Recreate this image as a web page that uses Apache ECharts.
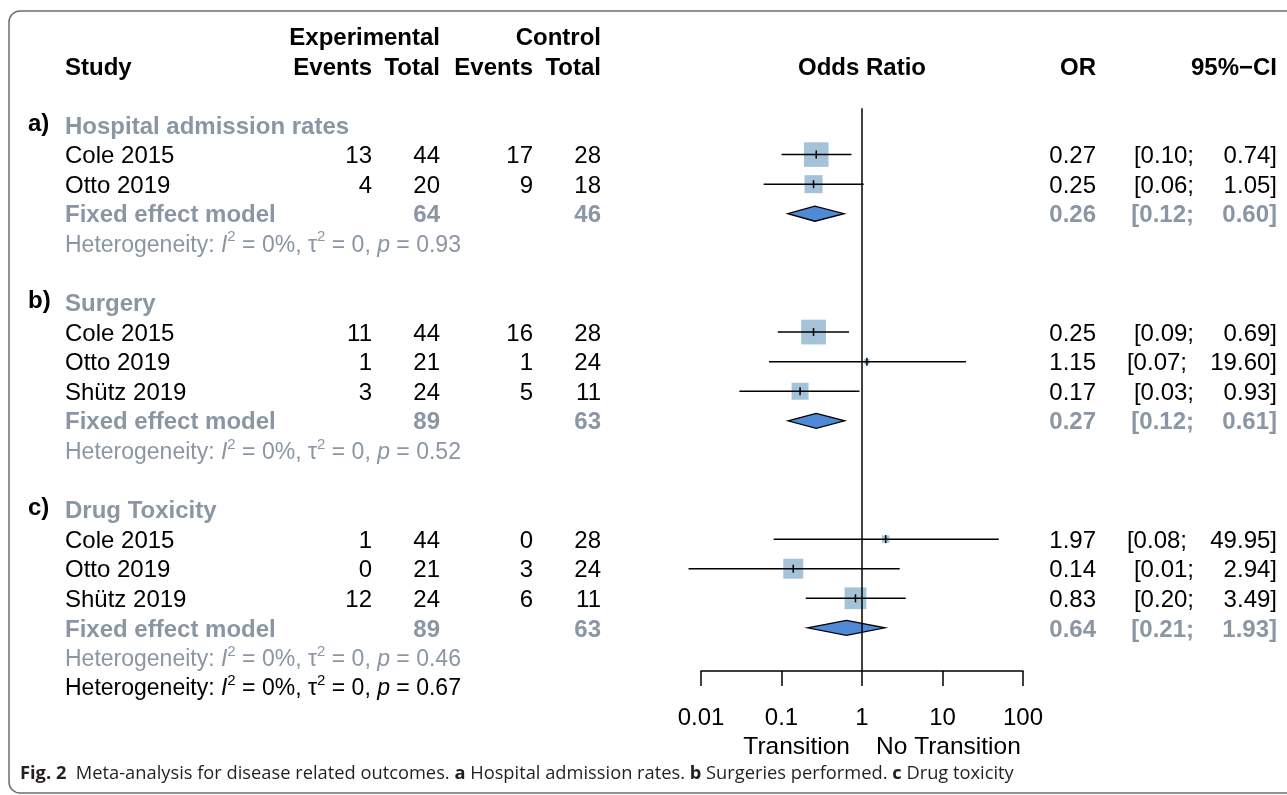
<!DOCTYPE html>
<html>
<head>
<meta charset="utf-8">
<script src="https://cdn.jsdelivr.net/npm/echarts@6/dist/echarts.min.js"></script>
<style>
  html, body { margin: 0; padding: 0; background: #fff; }
  #chart { width: 1287px; height: 795px; }
</style>
</head>
<body>
<div id="chart"></div>
<script>
// groups
var groupLabels = ['a)', 'b)', 'c)'];
var groupTitles = ['Hospital admission rates', 'Surgery', 'Drug Toxicity'];
var groupStart = [0, 6, 13];

// studies
var studies = ['Cole 2015', 'Otto 2019', 'Cole 2015', 'Otto 2019', 'Shütz 2019', 'Cole 2015', 'Otto 2019', 'Shütz 2019'];
var studyGroup = [0, 0, 1, 1, 1, 2, 2, 2];
var expEvents = [13, 4, 11, 1, 3, 1, 0, 12];
var expTotal = [44, 20, 44, 21, 24, 44, 21, 24];
var ctrlEvents = [17, 9, 16, 1, 5, 0, 3, 6];
var ctrlTotal = [28, 18, 28, 24, 11, 28, 24, 11];
var orValues = [0.27, 0.25, 0.25, 1.15, 0.17, 1.97, 0.14, 0.83];
var ciLower = [0.10, 0.06, 0.09, 0.07, 0.03, 0.08, 0.007, 0.20];
var ciUpper = [0.74, 1.05, 0.69, 19.60, 0.93, 49.95, 2.94, 3.49];
var weights = [65, 35, 66, 3, 31, 6, 43, 51];

// pooled (fixed effect)
var pooledOR = [0.26, 0.27, 0.64];
var pooledLower = [0.12, 0.12, 0.21];
var pooledUpper = [0.60, 0.61, 1.93];
var pooledExpTotal = [64, 89, 89];
var pooledCtrlTotal = [46, 63, 63];
var hetP = ['0.93', '0.52', '0.46'];
var overallHetP = '0.67';
var overallHetRow = 19;

var tickLabels = ['0.01', '0.1', '1', '10', '100'];

var FONT = "'Liberation Sans', Arial, sans-serif";
var GRAY = '#8a96a4';
var SQUARE = '#a4c3d9';
var DIAMOND = '#5089d5';

// row index of each study / pooled line
var studyRow = [];
var pooledRow = [];
var counter = [0, 0, 0];
for (var i = 0; i < studies.length; i++) {
    var g = studyGroup[i];
    counter[g]++;
    studyRow.push(groupStart[g] + counter[g]);
}
for (var g2 = 0; g2 < groupStart.length; g2++) {
    pooledRow.push(groupStart[g2] + counter[g2] + 1);
}

function f2(v) { return v.toFixed(2); }

// text cells
var cells = [];
function cell(x, row, text, align, kind, dy) {
    cells.push({ value: [x, row], text: String(text), align: align, kind: kind, dy: (dy || 0) + 2 });
}
// header
cell(440, -3, 'Experimental', 'right', 'head', 0.5);
cell(601, -3, 'Control', 'right', 'head', 0.5);
cell(65, -2, 'Study', 'left', 'head', 0.5);
cell(372, -2, 'Events', 'right', 'head', 0.5);
cell(440, -2, 'Total', 'right', 'head', 0.5);
cell(533, -2, 'Events', 'right', 'head', 0.5);
cell(601, -2, 'Total', 'right', 'head', 0.5);
cell(862, -2, 'Odds Ratio', 'center', 'head', 0.5);
cell(1096, -2, 'OR', 'right', 'head', 0.5);
cell(1277, -2, '95%\u2212CI', 'right', 'head', 0.5);

for (var k = 0; k < groupStart.length; k++) {
    cell(28, groupStart[k], groupLabels[k], 'left', 'head', -3);
    cell(65, groupStart[k], groupTitles[k], 'left', 'gray');
    var pr = pooledRow[k];
    cell(65, pr, 'Fixed effect model', 'left', 'gray');
    cell(440, pr, pooledExpTotal[k], 'right', 'gray');
    cell(601, pr, pooledCtrlTotal[k], 'right', 'gray');
    cell(1096, pr, f2(pooledOR[k]), 'right', 'gray');
    cell(pooledUpper[k] >= 10 ? 1187 : 1194, pr, '[' + f2(pooledLower[k]) + ';', 'right', 'gray');
    cell(1277, pr, f2(pooledUpper[k]) + ']', 'right', 'gray');
    cell(65, pr + 1, 'Heterogeneity: {it|I}{sup|2} = 0%, {n|\u03c4}{sup|2} = 0, {it|p} = ' + hetP[k], 'left', 'hetgray');
}
for (var j = 0; j < studies.length; j++) {
    var r = studyRow[j];
    cell(65, r, studies[j], 'left', 'norm');
    cell(372, r, expEvents[j], 'right', 'norm');
    cell(440, r, expTotal[j], 'right', 'norm');
    cell(533, r, ctrlEvents[j], 'right', 'norm');
    cell(601, r, ctrlTotal[j], 'right', 'norm');
    cell(1096, r, f2(orValues[j]), 'right', 'norm');
    cell(ciUpper[j] >= 10 ? 1187 : 1194, r, '[' + f2(ciLower[j]) + ';', 'right', 'norm');
    cell(1277, r, f2(ciUpper[j]) + ']', 'right', 'norm');
}
cell(65, overallHetRow, 'Heterogeneity: {it|I}{sup|2} = 0%, {n|\u03c4}{sup|2} = 0, {it|p} = ' + overallHetP, 'left', 'het');
cell(850, 20.96, 'Transition', 'right', 'axis');
cell(876, 20.96, 'No Transition', 'left', 'axis');

var HET_SIZE = 23;
function richFor(color) {
    return {
        it: { fontFamily: FONT, fontSize: HET_SIZE, fontStyle: 'italic', color: color },
        n: { fontFamily: FONT, fontSize: HET_SIZE, color: color },
        sup: { fontFamily: FONT, fontSize: 15, color: color, verticalAlign: 'top', padding: [0, 0, 16, 0] }
    };
}

function textStyle(c) {
    var s = { text: c.text, align: c.align, verticalAlign: 'middle', fontFamily: FONT, fontSize: 24, fill: '#000' };
    if (c.kind === 'head') { s.fontWeight = 'bold'; }
    if (c.kind === 'gray') { s.fontWeight = 'bold'; s.fill = GRAY; }
    if (c.kind === 'het' || c.kind === 'hetgray') {
        s.fontSize = HET_SIZE;
        s.fill = c.kind === 'het' ? '#000' : GRAY;
        s.rich = richFor(s.fill);
    }
    if (c.kind === 'axis') { s.fontSize = 24.5; }
    return s;
}

// forest marks
var studyData = studies.map(function (s, i) {
    return [orValues[i], studyRow[i], ciLower[i], ciUpper[i], weights[i]];
});
var pooledData = pooledOR.map(function (v, i) {
    return [v, pooledRow[i], pooledLower[i], pooledUpper[i]];
});

var chart = echarts.init(document.getElementById('chart'), null, { renderer: 'canvas' });
chart.setOption({
    backgroundColor: '#fff',
    animation: false,
    grid: [
        { left: 0, right: 0, top: 6.68, bottom: 19.2 },
        { left: 701, right: 264, top: 6.68, bottom: 124 }
    ],
    xAxis: [
        { gridIndex: 0, type: 'value', min: 0, max: 1287, show: false },
        {
            gridIndex: 1, type: 'log', logBase: 10, min: 0.01, max: 100, position: 'bottom',
            axisLine: { onZero: false, lineStyle: { color: '#000', width: 1.5 } },
            axisTick: { length: 15, lineStyle: { color: '#000', width: 1.5 } },
            splitLine: { show: false },
            axisLabel: {
                margin: 35, color: '#000', fontSize: 24, fontFamily: FONT,
                formatter: function (v) { return tickLabels[Math.round(Math.log10(v)) + 2]; }
            }
        }
    ],
    yAxis: [
        { gridIndex: 0, type: 'value', min: -4, max: 22, inverse: true, show: false },
        { gridIndex: 1, type: 'value', min: -4, max: 18.458, inverse: true, show: false }
    ],
    graphic: [
        {
            type: 'rect', shape: { x: 9, y: 11, width: 1320, height: 782, r: 11 },
            style: { fill: 'none', stroke: '#6e6e6e', lineWidth: 1.5 }, silent: true
        },
        {
            type: 'text', left: 20, top: 765,
            style: {
                text: '{b|Fig. 2}  Meta-analysis for disease related outcomes. {b|a} Hospital admission rates. {b|b} Surgeries performed. {b|c} Drug toxicity',
                fontFamily: "'Open Sans', sans-serif", fontSize: 18.3, fill: '#231f20',
                rich: { b: { fontFamily: "'Open Sans', sans-serif", fontSize: 18.3, fontWeight: 'bold', color: '#231f20' } }
            }
        }
    ],
    series: [
        {
            type: 'custom', name: 'text', xAxisIndex: 0, yAxisIndex: 0,
            data: cells,
            renderItem: function (params, api) {
                var c = cells[params.dataIndex];
                var p = api.coord([api.value(0), api.value(1)]);
                return { type: 'text', x: p[0], y: p[1] + c.dy, style: textStyle(c) };
            }
        },
        {
            type: 'line', xAxisIndex: 1, yAxisIndex: 1, symbol: 'none',
            data: [[1, -0.57], [1, 18.458]],
            lineStyle: { color: '#000', width: 1.5 }
        },
        {
            type: 'custom', name: 'studies', xAxisIndex: 1, yAxisIndex: 1,
            encode: { x: 0, y: 1 },
            data: studyData,
            renderItem: function (params, api) {
                var c = api.coord([api.value(0), api.value(1)]);
                var l = api.coord([api.value(2), api.value(1)]);
                var h = api.coord([api.value(3), api.value(1)]);
                var s = 3.05 * Math.sqrt(api.value(4));
                return {
                    type: 'group', children: [
                        { type: 'rect', shape: { x: c[0] - s / 2, y: c[1] - s / 2, width: s, height: s }, style: { fill: SQUARE } },
                        { type: 'line', shape: { x1: l[0], y1: l[1], x2: h[0], y2: h[1] }, style: { stroke: '#000', lineWidth: 1.5 } },
                        { type: 'line', shape: { x1: c[0], y1: c[1] - 4, x2: c[0], y2: c[1] + 4 }, style: { stroke: '#000', lineWidth: 1.5 } }
                    ]
                };
            }
        },
        {
            type: 'custom', name: 'pooled', xAxisIndex: 1, yAxisIndex: 1,
            encode: { x: 0, y: 1 },
            data: pooledData,
            renderItem: function (params, api) {
                var c = api.coord([api.value(0), api.value(1)]);
                var l = api.coord([api.value(2), api.value(1)]);
                var h = api.coord([api.value(3), api.value(1)]);
                return {
                    type: 'polygon',
                    shape: { points: [[l[0], c[1]], [c[0], c[1] - 7.5], [h[0], c[1]], [c[0], c[1] + 7.5]] },
                    style: { fill: DIAMOND, stroke: '#000', lineWidth: 1.3 }
                };
            }
        }
    ]
});
</script>
</body>
</html>
